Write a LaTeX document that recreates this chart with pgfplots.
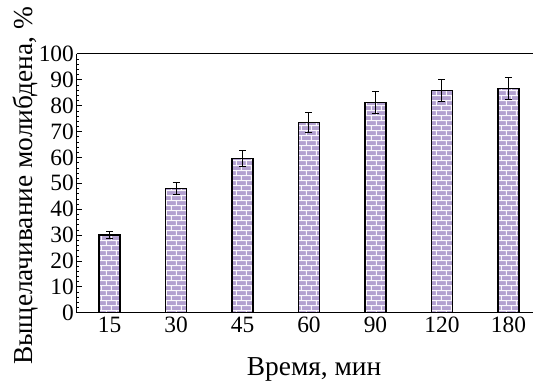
\documentclass[border=0pt]{standalone}
\usepackage{fontspec}
\setmainfont{Liberation Serif}
\usepackage{pgfplots}
\pgfplotsset{compat=1.18}
\usetikzlibrary{patterns}
\definecolor{brickfill}{RGB}{178,160,208}
\pgfdeclarepatternformonly{mybricks}{\pgfqpoint{0bp}{0bp}}{\pgfqpoint{10bp}{10bp}}{\pgfqpoint{10bp}{10bp}}{%
  \pgfsetlinewidth{1bp}%
  \pgfpathmoveto{\pgfqpoint{0bp}{2.5bp}}\pgfpathlineto{\pgfqpoint{10bp}{2.5bp}}%
  \pgfpathmoveto{\pgfqpoint{0bp}{7.5bp}}\pgfpathlineto{\pgfqpoint{10bp}{7.5bp}}%
  \pgfpathmoveto{\pgfqpoint{2.5bp}{2.5bp}}\pgfpathlineto{\pgfqpoint{2.5bp}{7.5bp}}%
  \pgfpathmoveto{\pgfqpoint{7.5bp}{7.5bp}}\pgfpathlineto{\pgfqpoint{7.5bp}{10bp}}%
  \pgfpathmoveto{\pgfqpoint{7.5bp}{0bp}}\pgfpathlineto{\pgfqpoint{7.5bp}{2.5bp}}%
  \pgfusepath{stroke}%
}
\pgfplotstableread{
x y e
0 30.0 1.3
1 47.9 2.3
2 59.5 3.0
3 73.5 3.8
4 81.3 4.3
5 85.8 4.3
6 86.6 4.4
}\datatable
\begin{document}
\begin{tikzpicture}
\begin{axis}[
  scale only axis,
  width=457bp, height=259bp,
  xmin=-0.496, xmax=6.376,
  ymin=0, ymax=100,
  axis x line*=box,
  axis y line*=left,
  axis line style={line width=1.2bp, black},
  xtick={0,1,2,3,4,5,6},
  xticklabels={15,30,45,60,90,120,180},
  x tick style={draw=none},
  major x tick style={draw=none},
  ytick={0,10,...,100},
  minor y tick num=4,
  tick align=inside,
  major tick length=5bp,
  minor tick length=2.5bp,
  y tick style={black, line width=0.8bp},
  minor y tick style={black, line width=0.5bp},
  tick label style={font=\fontsize{23.5}{26}\selectfont},
  yticklabel style={inner xsep=2.5bp},
  xticklabel style={yshift=-1bp},
  /pgf/number format/assume math mode=true,
  label style={font=\fontsize{27.5}{30}\selectfont},
  xlabel={Время, мин},
  xlabel style={at={(axis description cs:0.52,0)}, anchor=base, yshift=-63bp, inner sep=1bp},
  ylabel={Выщелачивание молибдена, \%},
  ylabel style={at={(axis description cs:0,0.49)}, anchor=base, yshift=44bp, inner xsep=7bp, inner ysep=13bp},
  clip=false,
]
\addplot[
  ybar, bar width=21bp, bar shift=0pt,
  draw=black, line width=1.4bp,
  fill=brickfill,
  postaction={pattern=mybricks, pattern color=white!92!brickfill},
  error bars/.cd, y dir=both, y explicit,
  error bar style={line width=1bp, black},
  error mark options={rotate=90, mark size=3.5bp, line width=1bp},
] table[x=x, y=y, y error=e] {\datatable};
\end{axis}
\end{tikzpicture}
\end{document}
